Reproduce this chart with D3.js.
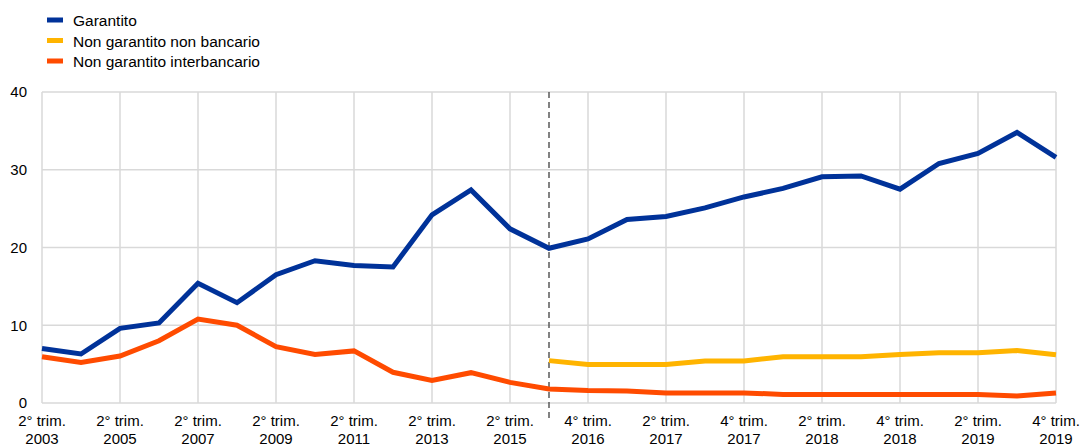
<!DOCTYPE html>
<html>
<head>
<meta charset="utf-8">
<script src="https://cdn.jsdelivr.net/npm/d3@7"></script>
<style>
  html, body { margin: 0; padding: 0; background: #fff; }
  svg { display: block; font-family: "Liberation Sans", Arial, sans-serif; }
</style>
</head>
<body>
<svg id="chart" width="1085" height="448"></svg>
<script>
const categories = [
  "2° trim. 2003","2° trim. 2004","2° trim. 2005","2° trim. 2006","2° trim. 2007",
  "2° trim. 2008","2° trim. 2009","2° trim. 2010","2° trim. 2011","2° trim. 2012",
  "2° trim. 2013","2° trim. 2014","2° trim. 2015","3° trim. 2016","4° trim. 2016",
  "1° trim. 2017","2° trim. 2017","3° trim. 2017","4° trim. 2017","1° trim. 2018",
  "2° trim. 2018","3° trim. 2018","4° trim. 2018","1° trim. 2019","2° trim. 2019",
  "3° trim. 2019","4° trim. 2019"
];
const garantito = [7.0,6.3,9.6,10.3,15.4,12.9,16.5,18.3,17.7,17.5,24.2,27.4,22.4,19.9,21.1,23.6,24.0,25.1,26.5,27.6,29.1,29.2,27.5,30.8,32.1,34.8,31.6];
const nonGarantitoNonBancario = [null,null,null,null,null,null,null,null,null,null,null,null,null,5.45,4.95,4.95,4.95,5.4,5.4,5.95,5.95,5.95,6.25,6.45,6.45,6.75,6.2];
const nonGarantitoInterbancario = [5.95,5.2,6.05,8.0,10.8,10.0,7.25,6.25,6.7,3.95,2.9,3.9,2.65,1.8,1.6,1.55,1.3,1.3,1.3,1.1,1.1,1.1,1.1,1.1,1.1,0.9,1.3];
const yTicks = [0,10,20,30,40];
const seriesNames = ["Garantito","Non garantito non bancario","Non garantito interbancario"];
const seriesColors = ["#003299","#ffb400","#ff4b00"];
const breakCategory = "3° trim. 2016";

(function () {
const svg = d3.select("#chart");
const mLeft = 42, mRight = 1056, mTop = 92, mBottom = 403;

const x = d3.scalePoint().domain(categories).range([mLeft, mRight]);
const y = d3.scaleLinear().domain([0, 40]).range([mBottom, mTop]);

// grid
const g = svg.append("g");
g.selectAll(".hg").data(yTicks).enter().append("line")
  .attr("x1", mLeft).attr("x2", mRight)
  .attr("y1", d => y(d)).attr("y2", d => y(d))
  .attr("stroke", "#d9d9d9").attr("stroke-width", 1.5);
const gridCats = categories.filter((d, i) => i % 2 === 0);
g.selectAll(".vg").data(gridCats).enter().append("line")
  .attr("x1", d => x(d)).attr("x2", d => x(d))
  .attr("y1", mTop).attr("y2", mBottom)
  .attr("stroke", "#d9d9d9").attr("stroke-width", 1.5);

// y labels
svg.selectAll(".yl").data(yTicks).enter().append("text")
  .attr("x", 27).attr("y", d => y(d)).attr("dy", "0.35em")
  .attr("text-anchor", "end").attr("font-size", 15).attr("fill", "#000")
  .text(d => d);

// x labels
gridCats.forEach(c => {
  const parts = c.split(" ");
  const t = svg.append("text").attr("text-anchor", "middle").attr("font-size", 15).attr("fill", "#000");
  t.append("tspan").attr("x", x(c)).attr("y", 426).text(parts[0] + " " + parts[1]);
  t.append("tspan").attr("x", x(c)).attr("y", 444).text(parts[2]);
});

// dashed break line
svg.append("line")
  .attr("x1", x(breakCategory)).attr("x2", x(breakCategory))
  .attr("y1", mTop).attr("y2", 422)
  .attr("stroke", "#595959").attr("stroke-width", 1.5)
  .attr("stroke-dasharray", "6,4");

// lines
const data = [garantito, nonGarantitoNonBancario, nonGarantitoInterbancario];
const line = d3.line()
  .defined(d => d.v !== null)
  .x(d => x(d.c)).y(d => y(d.v));
[2, 1, 0].forEach(k => {
  const pts = categories.map((c, i) => ({ c, v: data[k][i] }));
  svg.append("path").datum(pts)
    .attr("d", line).attr("fill", "none")
    .attr("stroke", seriesColors[k]).attr("stroke-width", 5)
    .attr("stroke-linejoin", "miter").attr("stroke-linecap", "butt");
});

// legend
const leg = svg.append("g");
seriesNames.forEach((n, i) => {
  const yy = 20 + i * 20.5;
  leg.append("rect").attr("x", 47).attr("y", yy - 2.5).attr("width", 16).attr("height", 5)
    .attr("fill", seriesColors[i]);
  leg.append("text").attr("x", 73).attr("y", yy + 6.3)
    .attr("font-size", 15.5).attr("fill", "#000").text(n);
});
})();
</script>
</body>
</html>
